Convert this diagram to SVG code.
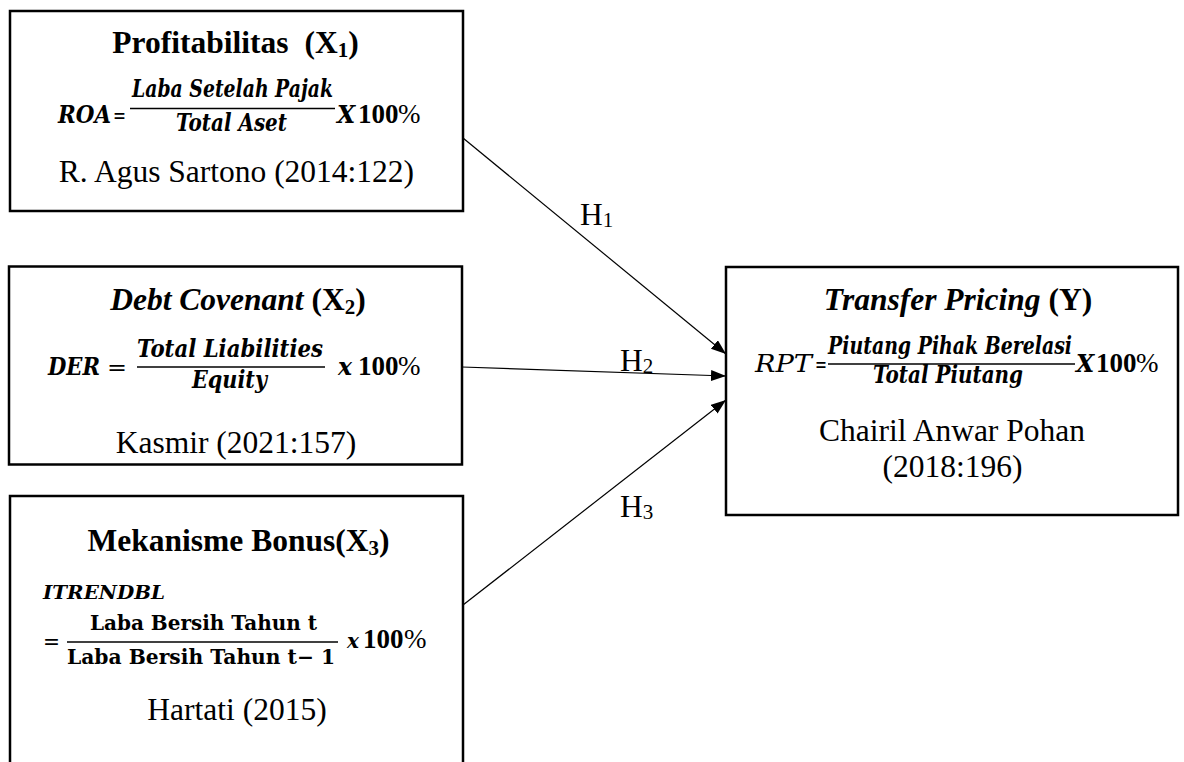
<svg xmlns="http://www.w3.org/2000/svg" width="1184" height="762" viewBox="0 0 1184 762">
<style>
.box{fill:#fff;stroke:#000;stroke-width:2.5}
.t{font-family:"Liberation Serif","Times New Roman",serif;font-size:31.5px;fill:#000}
.b{font-weight:bold}
.i{font-style:italic}
.sub{font-size:21px}
.mi{font-family:"DejaVu Serif",serif;font-style:italic;font-weight:bold;font-size:23.5px;fill:#000}
.mit{font-family:"DejaVu Serif",serif;font-style:italic;font-size:23.5px;fill:#000}
.mr{font-family:"DejaVu Serif",serif;font-size:23px;fill:#000}
.mb{font-family:"DejaVu Serif",serif;font-weight:bold;font-size:23px;fill:#000}
.nb{font-family:"Liberation Serif",serif;font-weight:bold;font-style:normal;font-size:27px}
.pr{font-family:"Liberation Serif",serif;font-weight:normal;font-style:normal;font-size:27px}
.fl{stroke:#000;stroke-width:1.6}
.conn{stroke:#000;stroke-width:1.2;fill:none}
</style>
<defs>
<marker id="ah" markerUnits="userSpaceOnUse" markerWidth="16" markerHeight="12" refX="15" refY="5.5" orient="auto">
<path d="M0,0 L15,5.5 L0,11 z" fill="#000"/>
</marker>
</defs>
<rect width="1184" height="762" fill="#fff"/>

<g id="connectors">
<line class="conn" x1="463" y1="138" x2="726" y2="354" marker-end="url(#ah)"/>
<line class="conn" x1="462" y1="367" x2="726" y2="376" marker-end="url(#ah)"/>
<line class="conn" x1="463" y1="605" x2="726" y2="400" marker-end="url(#ah)"/>
<text class="t" x="580" y="225">H<tspan class="sub" dy="2">1</tspan></text>
<text class="t" x="620" y="371">H<tspan class="sub" dy="2">2</tspan></text>
<text class="t" x="620" y="517">H<tspan class="sub" dy="2">3</tspan></text>
</g>

<g id="x1">
<rect class="box" x="10" y="11" width="453" height="200"/>
<text class="t b" x="235.5" y="53" text-anchor="middle">Profitabilitas <tspan dx="8">(X</tspan><tspan class="sub" dy="4">1</tspan><tspan dy="-4">)</tspan></text>
<text class="mi" x="58" y="123" textLength="53" lengthAdjust="spacingAndGlyphs">ROA</text>
<text class="mr" x="113" y="123" textLength="13" lengthAdjust="spacingAndGlyphs">=</text>
<text class="mi" x="132" y="97" textLength="201" lengthAdjust="spacingAndGlyphs">Laba Setelah Pajak</text>
<line class="fl" x1="130" y1="108.5" x2="335" y2="108.5"/>
<text class="mi" x="176" y="131" textLength="111" lengthAdjust="spacingAndGlyphs">Total Aset</text>
<text class="mi" x="337" y="123">X<tspan class="nb" x="358">100</tspan><tspan class="pr" x="398">%</tspan></text>
<text class="t" x="236.5" y="182" text-anchor="middle">R. Agus Sartono (2014:122)</text>
</g>

<g id="x2">
<rect class="box" x="9" y="266.5" width="453" height="198"/>
<text class="t b" x="238" y="310" text-anchor="middle"><tspan class="i">Debt Covenant</tspan> (X<tspan class="sub" dy="4">2</tspan><tspan dy="-4">)</tspan></text>
<text class="mi" x="48" y="375" textLength="52" lengthAdjust="spacingAndGlyphs">DER</text>
<text class="mr" x="107" y="375" textLength="20" lengthAdjust="spacingAndGlyphs">=</text>
<text class="mi" x="137" y="357" textLength="186" lengthAdjust="spacingAndGlyphs">Total Liabilities</text>
<line class="fl" x1="137" y1="367" x2="325" y2="367"/>
<text class="mi" x="192" y="388" textLength="75" lengthAdjust="spacingAndGlyphs">Equity</text>
<text class="mi" x="338" y="375">x<tspan class="nb" x="358">100</tspan><tspan class="pr" x="398">%</tspan></text>
<text class="t" x="236" y="453" text-anchor="middle">Kasmir (2021:157)</text>
</g>

<g id="x3">
<rect class="box" x="10" y="496" width="453" height="300"/>
<text class="t b" x="238.5" y="551" text-anchor="middle">Mekanisme Bonus(X<tspan class="sub" dy="4">3</tspan><tspan dy="-4">)</tspan></text>
<text class="mi" x="43" y="599" textLength="122" lengthAdjust="spacingAndGlyphs" style="font-size:19px">ITRENDBL</text>
<text class="mr" x="43" y="649" textLength="17" lengthAdjust="spacingAndGlyphs">=</text>
<text class="mb" x="90" y="630" textLength="227" lengthAdjust="spacingAndGlyphs" style="font-size:20.5px">Laba Bersih Tahun t</text>
<line class="fl" x1="67" y1="642" x2="338" y2="642"/>
<text class="mb" x="67" y="664" textLength="268" lengthAdjust="spacingAndGlyphs" style="font-size:20.5px">Laba Bersih Tahun t− 1</text>
<text class="mi" x="347" y="648" style="font-size:20px">x<tspan class="nb" x="363">100</tspan><tspan class="pr" x="404">%</tspan></text>
<text class="t" x="237" y="720" text-anchor="middle">Hartati (2015)</text>
</g>

<g id="y">
<rect class="box" x="726" y="267" width="452" height="248"/>
<text class="t b" x="958" y="310" text-anchor="middle"><tspan class="i">Transfer Pricing</tspan> (Y)</text>
<text class="mit" x="755" y="372" textLength="57" lengthAdjust="spacingAndGlyphs">RPT</text>
<text class="mr" x="815" y="372" textLength="12" lengthAdjust="spacingAndGlyphs">=</text>
<text class="mi" x="828" y="354" textLength="244" lengthAdjust="spacingAndGlyphs">Piutang Pihak Berelasi</text>
<line class="fl" x1="828" y1="364" x2="1075" y2="364"/>
<text class="mi" x="873" y="383" textLength="150" lengthAdjust="spacingAndGlyphs">Total Piutang</text>
<text class="mi" x="1076" y="372">X<tspan class="nb" x="1096">100</tspan><tspan class="pr" x="1136">%</tspan></text>
<text class="t" x="952" y="441" text-anchor="middle">Chairil Anwar Pohan</text>
<text class="t" x="952.5" y="477" text-anchor="middle">(2018:196)</text>
</g>
</svg>
